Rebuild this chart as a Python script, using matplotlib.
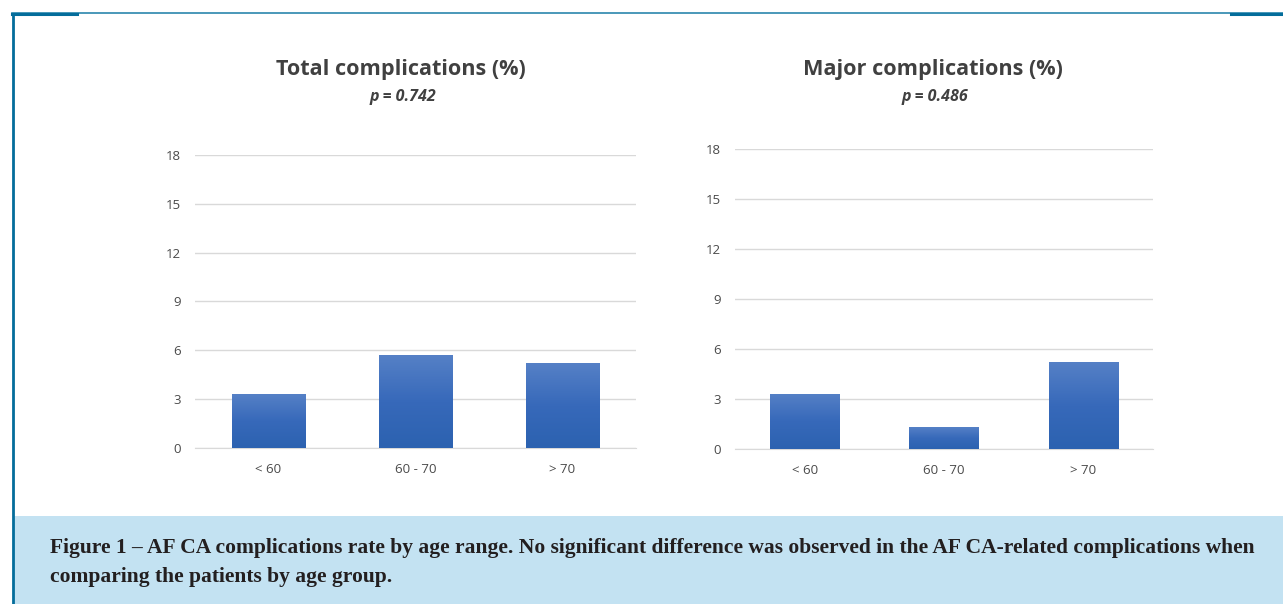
import numpy as np
import matplotlib
matplotlib.use("Agg")
import matplotlib.pyplot as plt
from matplotlib.lines import Line2D
from matplotlib.patches import Rectangle
from matplotlib.colors import LinearSegmentedColormap

# data
age_groups = ["< 60", "60 - 70", "> 70"]
total_pct = [3.3, 5.7, 5.2]
major_pct = [3.3, 1.3, 5.2]
titles = ["Total complications (%)", "Major complications (%)"]
p_values = ["p = 0.742", "p = 0.486"]
yticks = [0, 3, 6, 9, 12, 15, 18]

caption1 = ("Figure 1 \u2013 AF CA complications rate by age range. No significant difference "
            "was observed in the AF CA-related complications when")
caption2 = "comparing the patients by age group."

W, H = 1283, 604
fig = plt.figure(figsize=(W / 100, H / 100), dpi=100)
fig.patch.set_facecolor("white")

bar_cmap = LinearSegmentedColormap.from_list("bar", ["#2c62b0", "#3769ba", "#5580c6"])


def draw_panel(ax, values):
    x = np.arange(len(values))
    bars = ax.bar(x, values, width=0.5, color="#3a6dbd", zorder=2)
    # vertical gradient inside each bar
    grad = np.linspace(0, 1, 100).reshape(-1, 1)
    for b in bars:
        bx, by = b.get_x(), b.get_y()
        w, h = b.get_width(), b.get_height()
        im = ax.imshow(grad, extent=[bx, bx + w, by, by + h], origin="lower",
                       cmap=bar_cmap, aspect="auto", zorder=3)
        im.set_clip_path(b)
    ax.set_xlim(-0.5, 2.5)
    ax.set_ylim(0, 18)
    ax.set_yticks(yticks)
    ax.set_xticks(x)
    ax.set_xticklabels(age_groups)
    ax.grid(axis="y", color="#d9d9d9", linewidth=1.0, zorder=0)
    ax.set_axisbelow(True)
    for s in ["top", "right", "left"]:
        ax.spines[s].set_visible(False)
    ax.spines["bottom"].set_color("#d9d9d9")
    ax.tick_params(axis="both", length=0, labelsize=9.5, labelcolor="#4a4a4a")
    ax.tick_params(axis="y", pad=10)
    ax.tick_params(axis="x", pad=11)
    for lab in ax.get_xticklabels() + ax.get_yticklabels():
        lab.set_family("Open Sans")


ax1 = fig.add_axes([0.152, 0.2583, 0.3437, 0.4851])
ax2 = fig.add_axes([0.5729, 0.2566, 0.3258, 0.4967])
draw_panel(ax1, total_pct)
draw_panel(ax2, major_pct)

# titles, placed in figure pixels
for tx, title, pval in [(401, titles[0], p_values[0]), (933, titles[1], p_values[1])]:
    fig.text(tx / W, 1 - 70 / H, title, ha="center", va="center", fontsize=15.6,
             fontweight="bold", color="#404040", family="Open Sans")
    fig.text((tx + 2) / W, 1 - 97 / H, pval, ha="center", va="center", fontsize=11.5,
             fontweight="bold", style="italic", color="#404040", family="Open Sans")

# caption band
fig.add_artist(Rectangle((14 / W, 0), 1 - 14 / W, 88 / H,
                         transform=fig.transFigure, facecolor="#c3e2f2", edgecolor="none"))
fig.text(50 / W, 1 - 548 / H, caption1, ha="left", va="center", fontsize=15.45,
         fontweight="bold", color="#231f20", family="Liberation Serif")
fig.text(50 / W, 1 - 577 / H, caption2, ha="left", va="center", fontsize=15.45,
         fontweight="bold", color="#231f20", family="Liberation Serif")

# frame lines
fig.add_artist(Line2D([12 / W, 1], [1 - 13 / H] * 2, transform=fig.transFigure,
                      color="#2a86ad", linewidth=1.2))
fig.add_artist(Line2D([12 / W, 77 / W], [1 - 14 / H] * 2, transform=fig.transFigure,
                      color="#046d9b", linewidth=2.2))
fig.add_artist(Line2D([1231 / W, 1], [1 - 14 / H] * 2, transform=fig.transFigure,
                      color="#046d9b", linewidth=2.2))
fig.add_artist(Line2D([13 / W] * 2, [0, 1 - 13 / H], transform=fig.transFigure,
                      color="#046d9b", linewidth=2.0, solid_capstyle="butt"))

fig.savefig("out.png", dpi=100)
